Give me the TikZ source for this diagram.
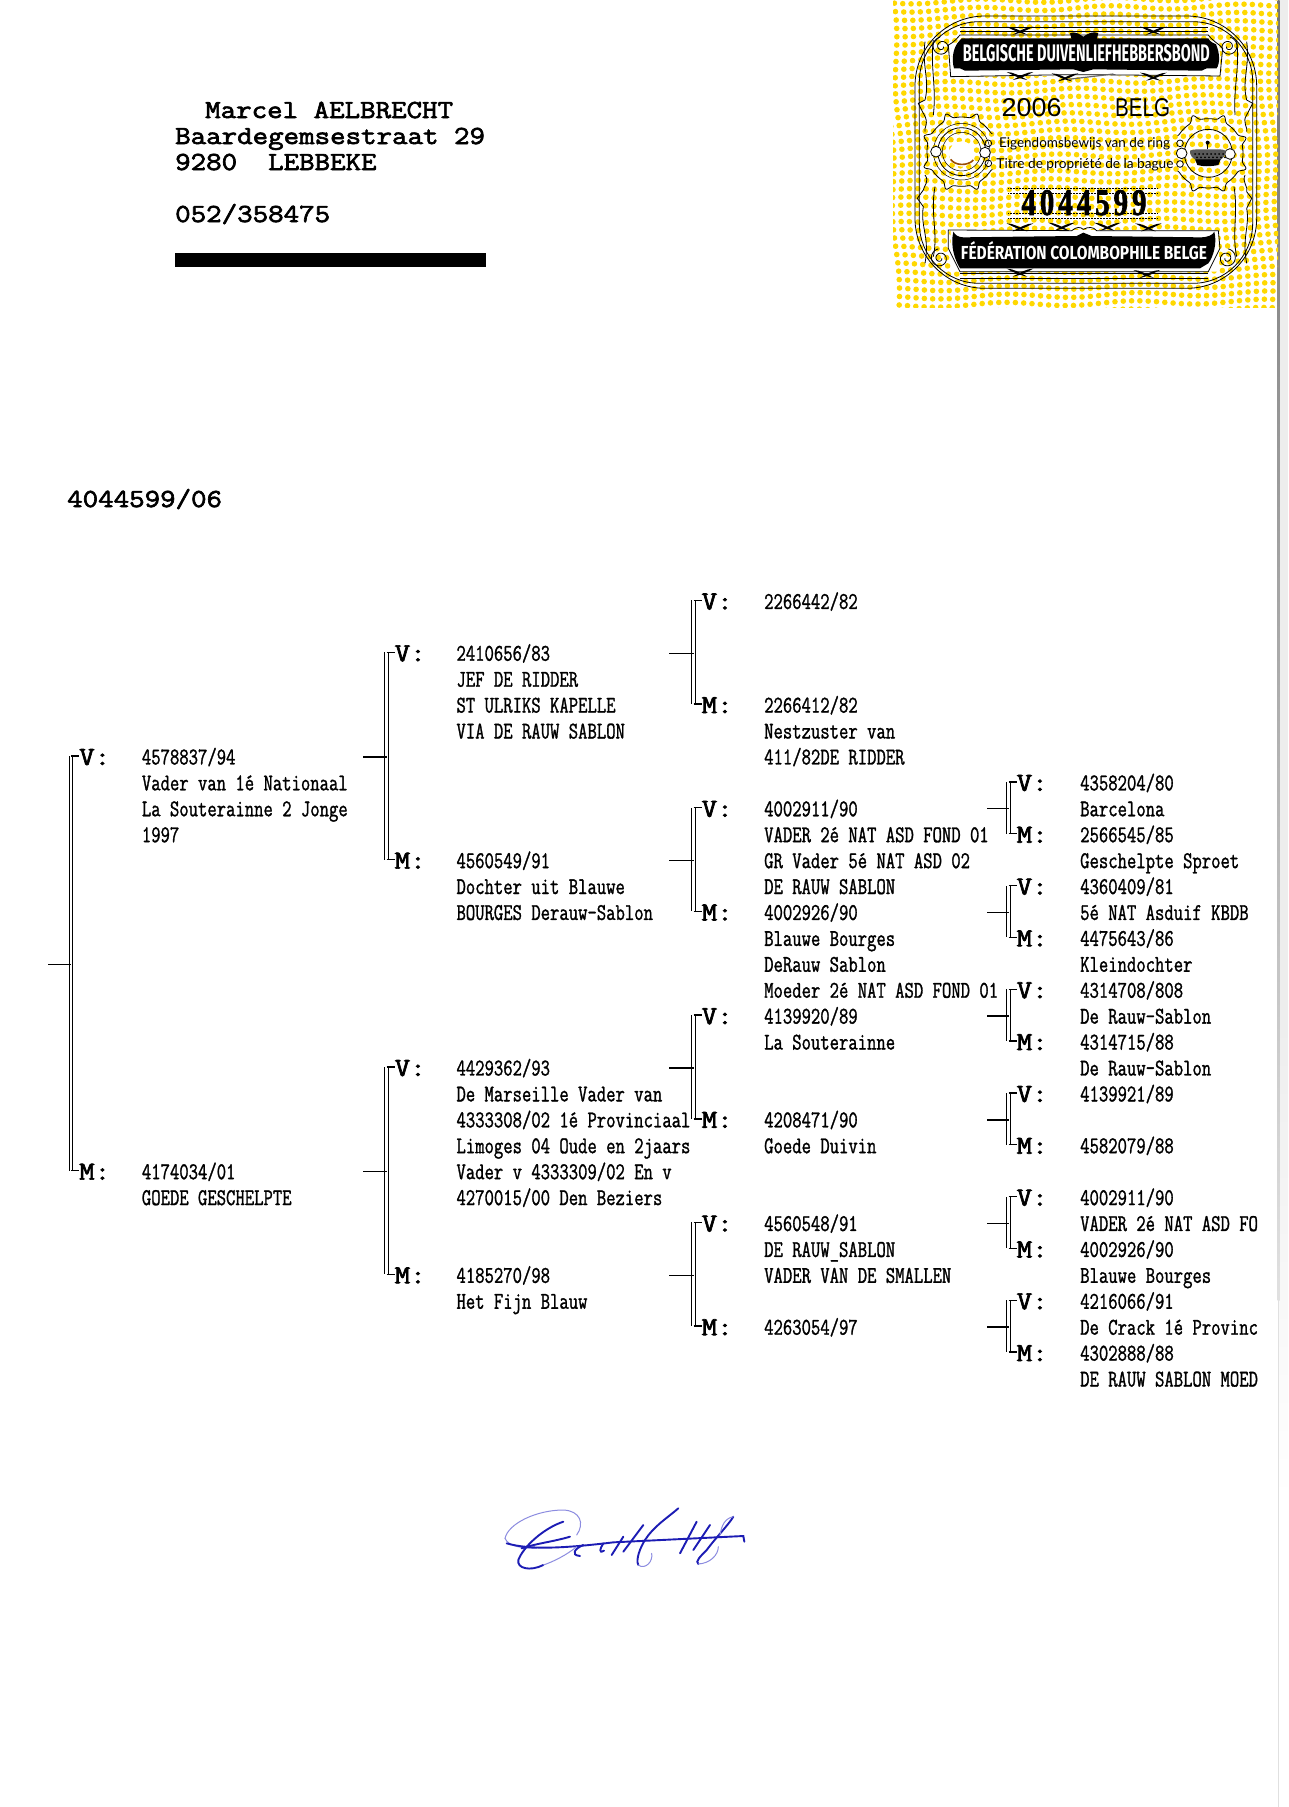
\documentclass[tikz,border=0pt]{standalone}
\usepackage{fontspec}
\usetikzlibrary{calc}
\newfontfamily\headfont{Latin Modern Mono}[FakeStretch=1.157,FakeBold=2.6]
\newfontfamily\treefont{Latin Modern Mono}[FakeStretch=0.757,FakeBold=1.2]
\newfontfamily\bandfont{Fira Sans}
\newfontfamily\hfont{Liberation Sans}
\newfontfamily\thinfont{Lato}
\newfontfamily\numfont{Liberation Serif}
\definecolor{dotyellow}{HTML}{FFD800}
\definecolor{inkblue}{HTML}{1C1CB4}
\definecolor{inklight}{HTML}{8C8CE0}
\tikzset{
  headtext/.style={anchor=west,inner sep=0pt,text height=16pt,text depth=0pt,font=\headfont\fontsize{26}{26}\selectfont},
  treetext/.style={anchor=west,inner sep=0pt,text height=15pt,text depth=0pt,font=\treefont\fontsize{24}{26}\selectfont},
  parent/.style={anchor=west,inner sep=0pt,text height=16pt,text depth=0pt,font=\headfont\fontsize{26}{26}\selectfont},
  rail/.style={double,double distance=2.2pt,line width=1pt,line cap=butt},
  tick/.style={line width=1.4pt},
  fine/.style={line width=0.8pt,black},
  ultrafine/.style={line width=0.5pt,black},
  band/.style={inner sep=0pt,text=white,font=\bandfont\bfseries},
  sigdark/.style={line width=1.9pt,inkblue,line cap=round},
  siglight/.style={line width=1pt,inklight,line cap=round},
}
\newcommand{\rowy}[1]{601.4+25.92*(#1)}
\newcommand{\tx}[3]{%
  \ifcase#1\or\def\cx{141.7}\or\def\cx{456.3}\or\def\cx{764}\or\def\cx{1080}\fi
  \node[treetext] (n#1r#2) at (\cx,{\rowy{#2}}) {#3};}
\newcommand{\brk}[5]{%
  \node[parent] (#1V) at (#2+8,{\rowy{#3}}) {V:};
  \node[parent] (#1M) at (#2+8,{\rowy{#4}}) {M:};
  \coordinate (#1T) at (#2,{\rowy{#3}-1});
  \coordinate (#1B) at (#2,{\rowy{#4}-1});
  \coordinate (#1S) at (#5,{\rowy{(#3+#4)/2}});
  \draw[rail] (#1T) -- (#1B);
  \draw[tick] (#1T) -- (#1T -| #1V.west);
  \draw[tick] (#1B) -- (#1B -| #1M.west);
  \draw[tick] (#1S) -- (#1S -| #1T);}
\newcommand{\sprig}[2]{%
  \fill[black] (#1-40,#2-12) .. controls (#1-20,#2-12) and (#1,#2) .. (#1+22,#2+12) .. controls (#1-2,#2+8) and (#1-25,#2-4) .. (#1-40,#2-12);
  \fill[black] (#1+40,#2-12) .. controls (#1+20,#2-12) and (#1,#2) .. (#1-22,#2+12) .. controls (#1+2,#2+8) and (#1+25,#2-4) .. (#1+40,#2-12);}
\newcommand{\scroll}[3]{%
  \draw[fine] plot[domain=0:620,samples=60,smooth] ({#1+#3*(5+\x/26)*cos(\x)},{#2+(5+\x/26)*sin(\x)});}
\newcommand{\rosette}[4]{% cx cy start end
  \draw[fine] plot[domain=#3:#4,samples=160,smooth] ({#1+(104+18*pow(abs(sin(4*\x)),14))*cos(\x)},{#2+(104+18*pow(abs(sin(4*\x)),14))*sin(\x)});
  \draw[fine] (#1,#2) circle (72);}
\begin{document}
\begin{tikzpicture}[x=1pt,y=-1pt]
\useasboundingbox (0,0) rectangle (1288,1807);
\fill[white] (0,0) rectangle (1288,1807);
% page edge
\fill[black!7] (1279,0) rectangle (1288,1000);
\shade[top color=black!7,bottom color=white] (1279,1000) rectangle (1288,1500);
\shade[top color=black!55,bottom color=black!12] (1277.5,0) rectangle (1279.5,1300);
\fill[black!12] (1278,1300) rectangle (1279,1807);
% letterhead
\node[headtext] (h1) at (205,110) {Marcel AELBRECHT};
\node[headtext] (h2) at (175,136) {Baardegemsestraat 29};
\node[headtext] (h3) at (175,162) {9280\ \ LEBBEKE};
\node[headtext] (h4) at (175,214) {052/358475};
\fill[black] (175,252.5) rectangle (486,266.5);
\node[headtext] (ring) at (67,499) {4044599/06};
% ---------- ring certificate ----------
\begin{scope}
\clip (893,0) rectangle (1278,307);
\fill[dotyellow] foreach \i in {0,...,50} { foreach \j in {0,...,40} {
  ({885+8.3*\i+0.35*\j+2*sin(\j*23)},{-6+8.2*\j-0.1*\i+2*sin(\i*23+\j*9)}) circle (2.8) } };
\end{scope}
\begin{scope}[shift={(880,0)},scale=1/3]
% frame
\draw[fine,rounded corners=70pt] (105,48) rectangle (1130,865);
\draw[fine,rounded corners=60pt] (118,65) rectangle (1118,850);
\draw[ultrafine] (240,82) -- (985,82) (240,95) -- (985,95) (240,820) -- (985,820) (240,835) -- (985,835);
\draw[fine] (135,125) .. controls (125,200) and (150,240) .. (135,300) -- (115,310) -- (130,340) .. controls (150,370) and (130,385) .. (135,395);
\draw[fine] (160,120) .. controls (150,200) and (170,260) .. (160,345);
\draw[fine] (135,525) .. controls (150,545) and (130,560) .. (130,570) -- (112,595) -- (130,620) .. controls (120,680) and (150,710) .. (135,790);
\draw[fine] (165,560) .. controls (150,640) and (175,700) .. (160,770);
\draw[fine] (1100,125) .. controls (1110,200) and (1085,240) .. (1100,300) -- (1118,310) -- (1100,345) .. controls (1085,365) and (1105,385) .. (1100,395);
\draw[fine] (1070,120) .. controls (1080,200) and (1060,260) .. (1065,345);
\draw[fine] (1095,525) .. controls (1085,545) and (1105,560) .. (1100,575) -- (1115,595) -- (1100,625) .. controls (1110,680) and (1085,710) .. (1100,790);
\draw[fine] (1062,560) .. controls (1075,640) and (1055,700) .. (1070,770);
% scrolls
\scroll{185}{140}{1}
\scroll{1045}{140}{-1}
\scroll{180}{775}{1}
\scroll{1040}{775}{-1}
% top banner
\fill[white] (215,128) -- (1018,125) -- (1022,225) -- (212,230) -- cycle;
\draw[fine] (205,135) .. controls (225,125) and (235,110) .. (240,105) -- (985,105) .. controls (1000,125) and (1015,130) .. (1028,145) -- (1020,228) -- (640,224) -- (560,224) -- (212,230) -- cycle;
\fill[black] (232,130) .. controls (238,125) and (240,118) .. (245,115) -- (985,115) .. controls (990,125) and (1000,130) .. (1008,133)
  .. controls (1020,160) and (1020,190) .. (1010,205) -- (980,205) -- (965,212) -- (640,208) -- (610,216) -- (580,208) -- (255,212) -- (240,205) -- (222,205) .. controls (215,180) and (218,150) .. (232,130) -- cycle;
\fill[black] (570,100) .. controls (590,92) and (600,105) .. (610,110) .. controls (625,100) and (640,92) .. (655,100) -- (650,118) -- (575,118) -- cycle;
\node[band] (t1) at (619,160) {\resizebox{247pt}{17pt}{BELGISCHE DUIVENLIEFHEBBERSBOND}};
\sprig{420}{92}
\sprig{820}{92}
\sprig{420}{228}
\sprig{820}{230}
\sprig{555}{232}
\draw[line width=1.2pt,black!60] (565,238) -- (700,222);
% bottom banner
\fill[white] (212,690) -- (1015,690) -- (1018,815) -- (212,815) -- cycle;
\draw[fine] (205,690) -- (575,692) .. controls (590,680) and (600,680) .. (610,688) .. controls (625,680) and (640,680) .. (650,692) -- (1015,692) -- (1020,745) -- (985,815) -- (240,815) -- (205,745) -- cycle;
\fill[black] (220,695) .. controls (225,705) and (235,712) .. (250,712) -- (590,708) -- (610,698) -- (635,708) -- (960,712) .. controls (985,712) and (998,705) .. (1003,695)
  .. controls (1012,730) and (1000,770) .. (985,790) -- (960,805) -- (240,805) .. controls (225,780) and (210,740) .. (220,695) -- cycle;
\node[band] (t2) at (612,752) {\resizebox{246pt}{18pt}{FÉDÉRATION COLOMBOPHILE BELGE}};
\sprig{420}{682}
\sprig{805}{682}
\sprig{545}{680}
\sprig{682}{680}
\sprig{420}{818}
\sprig{800}{822}
% rosettes
\rosette{245}{455}{30}{330}
\draw[ultrafine] (245,455) circle (85);
\draw[ultrafine] (245,455) circle (58);
\fill[white] (315,458) circle (16); \draw[fine] (315,458) circle (16);
\fill[white] (168,455) circle (16); \draw[fine] (168,455) circle (16);
\draw[fine] (325,430) circle (10) (325,490) circle (10);
\fill[white] (245,462) circle (38);
\draw[line width=1.6pt,black!40!orange] (212,478) .. controls (225,498) and (265,498) .. (280,480);
\rosette{985}{460}{-150}{150}
\fill[white] (905,460) circle (16); \draw[fine] (905,460) circle (16);
\fill[white] (1050,462) circle (16); \draw[fine] (1050,462) circle (16);
\draw[fine] (900,430) circle (10) (900,492) circle (10);
% crown
\fill[black!65] (930,452) .. controls (945,445) and (960,450) .. (985,448) .. controls (1010,450) and (1025,445) .. (1037,452) .. controls (1040,465) and (1025,478) .. (1020,480) -- (950,480) .. controls (940,478) and (928,465) .. (930,452) -- cycle;
\fill[black] foreach \q in {945,957,...,1030} { (\q,462) circle (3) (\q+6,472) circle (3) };
\fill[black] (945,478) -- (1022,478) -- (1015,495) .. controls (990,500) and (970,500) .. (952,495) -- cycle;
\draw[line width=1.4pt,black] (983,448) -- (983,430);
\fill[black] (983,428) circle (6);
% ring texts
\node[inner sep=0pt,font=\hfont] (yr) at (455,324) {\resizebox{60pt}{18pt}{2006}};
\node[inner sep=0pt,font=\hfont] (bl) at (788,324) {\resizebox{55pt}{18pt}{BELG}};
\node[inner sep=0pt,font=\thinfont] (e1) at (614,430) {\resizebox{171pt}{!}{Eigendomsbewijs van de ring}};
\node[inner sep=0pt,font=\thinfont] (e2) at (615,493) {\resizebox{177pt}{!}{Titre de propriété de la bague}};
\draw[ultrafine,densely dotted] (385,565) -- (835,565) (385,580) -- (835,580) (385,640) -- (835,640) (385,655) -- (835,655);
\node[inner sep=0pt,font=\numfont\bfseries\addfontfeature{LetterSpace=14,FakeBold=2}] (num) at (612,608) {\resizebox{125pt}{25pt}{4044599}};
\end{scope}
% ---------- pedigree ----------
\brk{a}{71}{6}{22}{48}
\brk{b}{386.5}{2}{10}{363}
\brk{c}{386.5}{18}{26}{363}
\brk{d}{693.5}{0}{4}{669}
\brk{e}{693.5}{8}{12}{669}
\brk{f}{693.5}{16}{20}{669}
\brk{g}{693.5}{24}{28}{669}
\brk{h}{1008.5}{7}{9}{987}
\brk{i}{1008.5}{11}{13}{987}
\brk{j}{1008.5}{15}{17}{987}
\brk{k}{1008.5}{19}{21}{987}
\brk{l}{1008.5}{23}{25}{987}
\brk{m}{1008.5}{27}{29}{987}
\tx{1}{6}{4578837/94}
\tx{1}{7}{Vader van 1é Nationaal}
\tx{1}{8}{La Souterainne 2 Jonge}
\tx{1}{9}{1997}
\tx{1}{22}{4174034/01}
\tx{1}{23}{GOEDE GESCHELPTE}
\tx{2}{2}{2410656/83}
\tx{2}{3}{JEF DE RIDDER}
\tx{2}{4}{ST ULRIKS KAPELLE}
\tx{2}{5}{VIA DE RAUW SABLON}
\tx{2}{10}{4560549/91}
\tx{2}{11}{Dochter uit Blauwe}
\tx{2}{12}{BOURGES Derauw-Sablon}
\tx{2}{18}{4429362/93}
\tx{2}{19}{De Marseille Vader van}
\tx{2}{20}{4333308/02 1é Provinciaal}
\tx{2}{21}{Limoges 04 Oude en 2jaars}
\tx{2}{22}{Vader v 4333309/02 En v}
\tx{2}{23}{4270015/00 Den Beziers}
\tx{2}{26}{4185270/98}
\tx{2}{27}{Het Fijn Blauw}
\tx{3}{0}{2266442/82}
\tx{3}{4}{2266412/82}
\tx{3}{5}{Nestzuster van}
\tx{3}{6}{411/82DE RIDDER}
\tx{3}{8}{4002911/90}
\tx{3}{9}{VADER 2é NAT ASD FOND 01}
\tx{3}{10}{GR Vader 5é NAT ASD 02}
\tx{3}{11}{DE RAUW SABLON}
\tx{3}{12}{4002926/90}
\tx{3}{13}{Blauwe Bourges}
\tx{3}{14}{DeRauw Sablon}
\tx{3}{15}{Moeder 2é NAT ASD FOND 01}
\tx{3}{16}{4139920/89}
\tx{3}{17}{La Souterainne}
\tx{3}{20}{4208471/90}
\tx{3}{21}{Goede Duivin}
\tx{3}{24}{4560548/91}
\tx{3}{25}{DE RAUW\_SABLON}
\tx{3}{26}{VADER VAN DE SMALLEN}
\tx{3}{28}{4263054/97}
\tx{4}{7}{4358204/80}
\tx{4}{8}{Barcelona}
\tx{4}{9}{2566545/85}
\tx{4}{10}{Geschelpte Sproet}
\tx{4}{11}{4360409/81}
\tx{4}{12}{5é NAT Asduif KBDB}
\tx{4}{13}{4475643/86}
\tx{4}{14}{Kleindochter}
\tx{4}{15}{4314708/808}
\tx{4}{16}{De Rauw-Sablon}
\tx{4}{17}{4314715/88}
\tx{4}{18}{De Rauw-Sablon}
\tx{4}{19}{4139921/89}
\tx{4}{21}{4582079/88}
\tx{4}{23}{4002911/90}
\tx{4}{24}{VADER 2é NAT ASD FO}
\tx{4}{25}{4002926/90}
\tx{4}{26}{Blauwe Bourges}
\tx{4}{27}{4216066/91}
\tx{4}{28}{De Crack 1é Provinc}
\tx{4}{29}{4302888/88}
\tx{4}{30}{DE RAUW SABLON MOED}
% ---------- signature ----------
\begin{scope}[shift={(480,1480)},scale=1/3]
\draw[siglight] (75,175) .. controls (85,130) and (170,90) .. (250,90) .. controls (300,92) and (315,130) .. (290,165);
\draw[siglight] (75,175) .. controls (85,200) and (130,205) .. (170,205);
\draw[sigdark] (80,190) .. controls (150,210) and (250,205) .. (400,187) -- (790,168) -- (793,185);
\draw[sigdark] (250,125) .. controls (190,145) and (130,200) .. (115,240) .. controls (110,265) and (150,275) .. (190,255);
\draw[siglight] (190,255) .. controls (220,245) and (260,225) .. (290,200);
\draw[sigdark] (270,170) .. controls (220,185) and (170,190) .. (125,205);
\draw[sigdark] (310,195) .. controls (285,205) and (270,225) .. (300,228);
\draw[sigdark] (370,190) .. controls (360,205) and (355,222) .. (372,212);
\draw[sigdark] (430,170) -- (395,225);
\draw[sigdark] (490,135) -- (430,215);
\draw[sigdark] (595,85) .. controls (560,115) and (520,140) .. (495,180) .. controls (470,220) and (470,250) .. (475,255);
\draw[siglight] (475,255) .. controls (495,270) and (520,245) .. (515,220);
\draw[sigdark] (650,125) -- (600,220);
\draw[sigdark] (690,135) -- (640,210);
\draw[sigdark] (760,110) .. controls (745,135) and (710,170) .. (680,210) .. controls (660,230) and (645,245) .. (655,252);
\draw[siglight] (655,252) .. controls (690,250) and (715,225) .. (715,200);
\draw[siglight] (760,110) .. controls (735,115) and (725,135) .. (720,165);
\end{scope}
\end{tikzpicture}
\end{document}
